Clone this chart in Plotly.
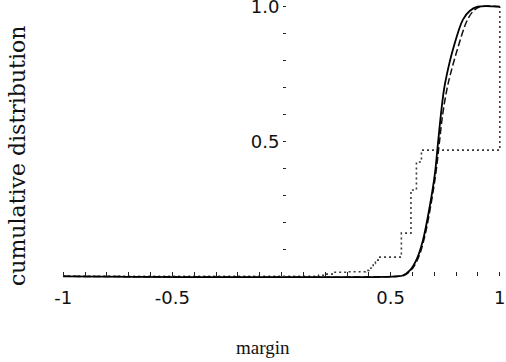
import plotly.graph_objects as go

# ---- data ----
solid_x = [-1.0, 0.53, 0.555, 0.588, 0.62, 0.648, 0.68, 0.703, 0.716, 0.73, 0.744, 0.757, 0.785, 0.831, 0.863, 0.899, 1.0]
solid_y = [0.0, 0.0, 0.003, 0.022, 0.065, 0.134, 0.264, 0.383, 0.487, 0.599, 0.691, 0.747, 0.84, 0.952, 0.985, 1.0, 1.0]

dashed_x = [-1.0, 0.535, 0.56, 0.593, 0.625, 0.652, 0.684, 0.707, 0.722, 0.738, 0.757, 0.773, 0.805, 0.852, 0.88, 0.908, 1.0]
dashed_y = [0.0, 0.0, 0.003, 0.022, 0.065, 0.134, 0.264, 0.383, 0.487, 0.599, 0.691, 0.747, 0.84, 0.952, 0.985, 1.0, 1.0]

step_x = [-1.0, 0.17, 0.20, 0.24, 0.30, 0.385, 0.40, 0.41, 0.42, 0.43, 0.443, 0.549, 0.593, 0.618, 0.641, 1.0]
step_y = [0.0, 0.004, 0.008, 0.015, 0.017, 0.022, 0.03, 0.04, 0.048, 0.06, 0.071, 0.160, 0.320, 0.424, 0.468, 1.0]

x_tickvals = [-1, -0.5, 0.5, 1]
x_ticktext = ["-1", "-0.5", "0.5", "1"]
y_tickvals = [0.5, 1.0]
y_ticktext = ["0.5", "1.0"]

x_range = [-1.01, 1.01]
y_range = [-0.01, 1.01]

ML, MR, MT, MB = 61, 4, 4, 83
W, H = 506, 362
PW, PH = W - ML - MR, H - MT - MB

fig = go.Figure()
fig.add_trace(go.Scatter(x=step_x, y=step_y, mode="lines", line_shape="hv",
                         line=dict(color="#3a3a3a", width=1.6, dash="2px,3px"), hoverinfo="skip"))
fig.add_trace(go.Scatter(x=dashed_x, y=dashed_y, mode="lines", line_shape="spline",
                         line=dict(color="#111111", width=1.5, dash="7px,3px"), hoverinfo="skip"))
fig.add_trace(go.Scatter(x=solid_x, y=solid_y, mode="lines", line_shape="spline",
                         line=dict(color="#000000", width=1.8), hoverinfo="skip"))

tick_font = dict(family="DejaVu Sans", size=18, color="#111111")

fig.update_layout(
    width=W, height=H,
    margin=dict(l=ML, r=MR, t=MT, b=MB, pad=0, autoexpand=False),
    paper_bgcolor="white", plot_bgcolor="white",
    showlegend=False,
    xaxis=dict(range=x_range, showgrid=False, zeroline=False, showline=False, automargin=False,
               tickmode="array", tickvals=x_tickvals, ticktext=x_ticktext,
               ticks="inside", ticklen=4, tickwidth=1, tickcolor="#222",
               minor=dict(ticks="inside", dtick=0.1, tick0=0, ticklen=4, tickwidth=1, tickcolor="#222"),
               tickfont=tick_font, anchor="free", ticklabeloverflow="allow",
               position=(0 - y_range[0]) / (y_range[1] - y_range[0]),
               ticklabelstandoff=9),
    yaxis=dict(range=y_range, showgrid=False, zeroline=False, showline=False, automargin=False,
               tickmode="array", tickvals=y_tickvals, ticktext=y_ticktext,
               ticks="inside", ticklen=3, tickwidth=1, tickcolor="#222",
               minor=dict(ticks="inside", dtick=0.1, tick0=0, ticklen=3, tickwidth=1, tickcolor="#222"),
               tickfont=tick_font, anchor="free", ticklabeloverflow="allow",
               position=(0 - x_range[0]) / (x_range[1] - x_range[0]),
               ticklabelstandoff=2),
    annotations=[
        dict(text="margin", xref="paper", yref="paper", x=(263 - ML) / PW, y=(H - MB - 347) / PH,
             xanchor="center", yanchor="middle", showarrow=False,
             font=dict(family="Liberation Serif", size=19, color="#111")),
        dict(text="cumulative distribution", xref="paper", yref="paper",
             x=(17 - ML) / PW, y=(H - MB - 156) / PH,
             xanchor="center", yanchor="middle", textangle=-90, showarrow=False,
             font=dict(family="DejaVu Serif", size=22, color="#111")),
    ],
)

fig.write_html("out.html", config={"displayModeBar": False, "staticPlot": True},
               post_script="document.body.style.margin='0';document.body.style.overflow='hidden';")
